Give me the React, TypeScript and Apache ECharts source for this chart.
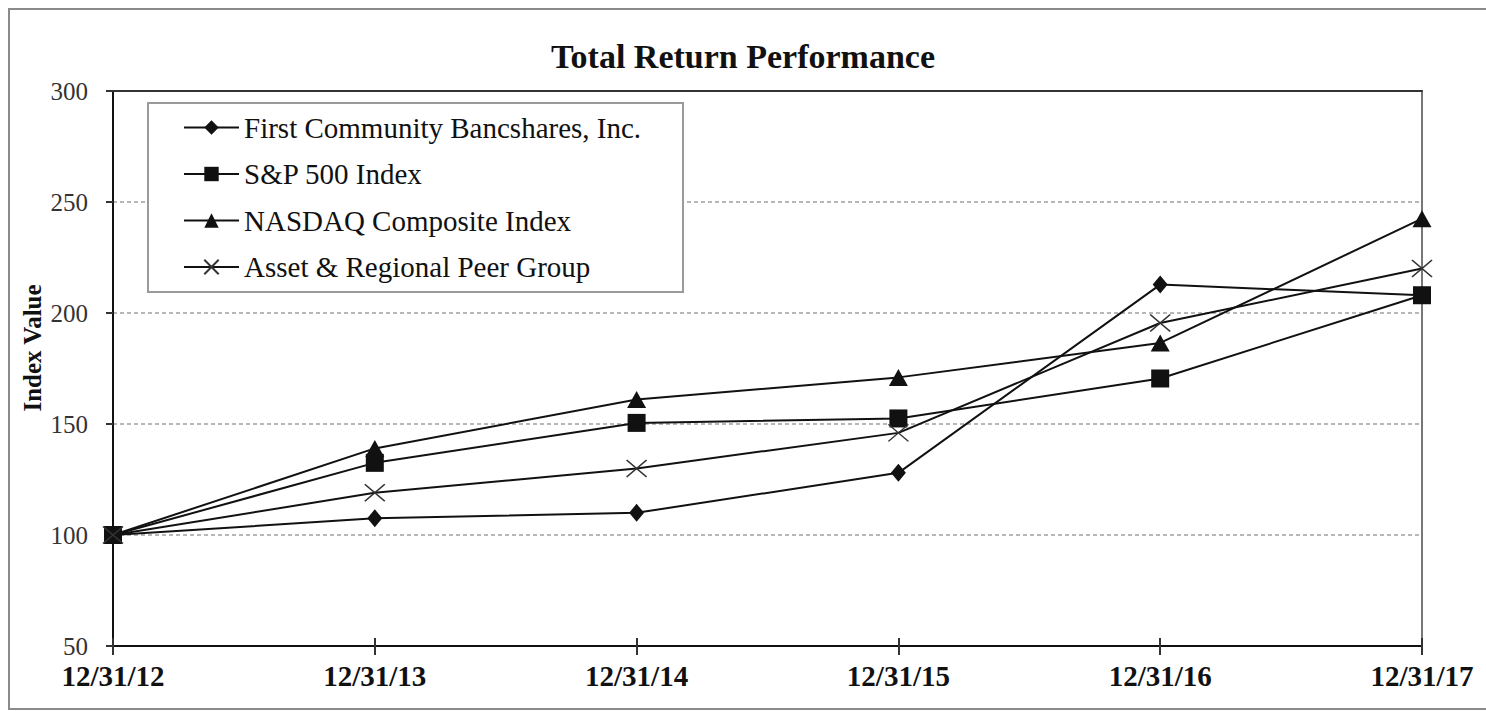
import React, { useEffect, useRef } from "react";
import * as echarts from "echarts";

const categories = ["12/31/12", "12/31/13", "12/31/14", "12/31/15", "12/31/16", "12/31/17"];
const seriesNames = [
  "First Community Bancshares, Inc.",
  "S&P 500 Index",
  "NASDAQ Composite Index",
  "Asset & Regional Peer Group",
];
const firstCommunity = [100, 107.5, 110, 128, 212.8, 208];
const sp500 = [100, 132.5, 150.5, 152.5, 170.5, 208];
const nasdaq = [100, 139, 161, 171, 186.5, 242.5];
const peerGroup = [100, 119, 130, 146, 195.5, 220];
const yTicks = { min: 50, max: 300, interval: 50 };

const FONT = "'Liberation Serif', 'Times New Roman', serif";
const X_PATH = "path://M0 0L10 10M10 0L0 10";

export default function App() {
  const ref = useRef<HTMLDivElement>(null);

  useEffect(() => {
    if (!ref.current) return;
    const chart = echarts.init(ref.current, null, { renderer: "svg" });
    const lineStyle = { color: "#111", width: 2 };
    const base = { type: "line", animation: false, lineStyle, z: 3 };
    chart.setOption({
      animation: false,
      backgroundColor: "#fff",
      title: {
        text: "Total Return Performance",
        left: "center",
        top: 39,
        padding: 0,
        textStyle: { fontFamily: FONT, fontSize: 34, fontWeight: "bold", color: "#111" },
      },
      legend: {
        orient: "vertical",
        left: 183,
        top: 113,
        padding: 0,
        itemWidth: 55,
        itemHeight: 18,
        itemGap: 17.5,
        z: 10,
        textStyle: { fontFamily: FONT, fontSize: 29, color: "#111", lineHeight: 29, padding: [0, 0, 0, 0] },
        data: seriesNames,
      },
      graphic: [
        {
          type: "rect",
          z: -1,
          silent: true,
          shape: { x: 9, y: 9, width: 1492, height: 700 },
          style: { fill: "none", stroke: "#8a8a8a", lineWidth: 2 },
        },
        {
          type: "rect",
          z: 5,
          silent: true,
          shape: { x: 148, y: 103, width: 535, height: 189 },
          style: { fill: "#fff", stroke: "#9a9a9a", lineWidth: 2 },
        },
        {
          type: "text",
          x: 32,
          y: 348,
          rotation: Math.PI / 2,
          z: 5,
          style: {
            text: "Index Value",
            fontFamily: FONT,
            fontSize: 25,
            fontWeight: "bold",
            fill: "#111",
            align: "center",
            verticalAlign: "middle",
          },
        },
      ],
      grid: { left: 113, right: 64, top: 91, bottom: 65, show: false },
      xAxis: [
        {
          type: "category",
          data: categories,
          boundaryGap: false,
          position: "bottom",
          axisLine: { show: true, lineStyle: { color: "#111", width: 2 } },
          axisTick: { show: true, inside: false, length: 9, lineStyle: { color: "#333", width: 2 } },
          axisLabel: { fontFamily: FONT, fontSize: 29, fontWeight: "bold", color: "#111", margin: 15 },
          splitLine: { show: false },
        },
        {
          type: "category",
          data: categories,
          boundaryGap: false,
          position: "bottom",
          axisLine: { show: false },
          axisTick: { show: true, inside: true, length: 8, lineStyle: { color: "#333", width: 2 } },
          axisLabel: { show: false },
          splitLine: { show: false },
        },
        {
          type: "category",
          data: categories,
          boundaryGap: false,
          position: "top",
          axisLine: { show: true, lineStyle: { color: "#333", width: 2 } },
          axisTick: { show: false },
          axisLabel: { show: false },
          splitLine: { show: false },
        },
      ],
      yAxis: [
        {
          type: "value",
          min: yTicks.min,
          max: yTicks.max,
          interval: yTicks.interval,
          position: "left",
          axisLine: { show: true, lineStyle: { color: "#111", width: 2 } },
          axisTick: { show: true, length: 7, lineStyle: { color: "#333", width: 2 } },
          axisLabel: { fontFamily: FONT, fontSize: 25, color: "#333", margin: 25 },
          splitLine: { show: true, lineStyle: { color: "#a0a0a0", width: 1.5, type: [4, 3] } },
        },
        {
          type: "value",
          min: yTicks.min,
          max: yTicks.max,
          interval: yTicks.interval,
          position: "right",
          axisLine: { show: true, lineStyle: { color: "#777", width: 2 } },
          axisTick: { show: false },
          axisLabel: { show: false },
          splitLine: { show: false },
        },
      ],
      series: [
        {
          ...base,
          name: seriesNames[0],
          data: firstCommunity,
          symbol: "diamond",
          symbolSize: [15, 18],
          itemStyle: { color: "#111" },
        },
        {
          ...base,
          name: seriesNames[1],
          data: sp500,
          symbol: "rect",
          symbolSize: 18,
          itemStyle: { color: "#111" },
        },
        {
          ...base,
          name: seriesNames[2],
          data: nasdaq,
          symbol: "triangle",
          symbolSize: [19, 17],
          itemStyle: { color: "#111" },
        },
        {
          ...base,
          name: seriesNames[3],
          data: peerGroup,
          symbol: X_PATH,
          symbolSize: [20, 17],
          itemStyle: { color: "none", borderColor: "#333", borderWidth: 1.5 },
        },
      ],
    });
    return () => chart.dispose();
  }, []);

  return (
    <div
      ref={ref}
      style={{ position: "absolute", left: 0, top: 0, width: 1486, height: 711, background: "#fff" }}
    />
  );
}
